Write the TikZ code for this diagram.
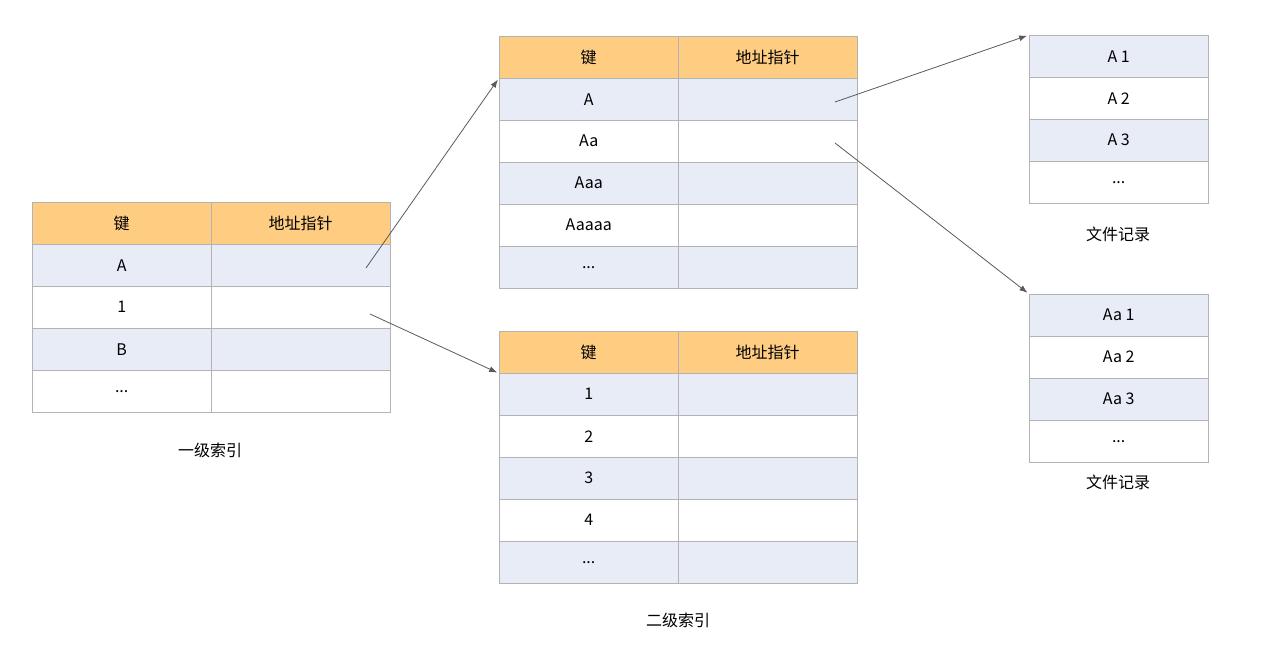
\documentclass[tikz,border=0pt]{standalone}
\usepackage{fontspec}
\setmainfont{Noto Sans CJK SC}
\usetikzlibrary{arrows.meta}
\usetikzlibrary{positioning}
\definecolor{headorange}{HTML}{FFCD82}
\definecolor{rowblue}{HTML}{E8ECF7}
\definecolor{cellline}{HTML}{B3B3B3}
\definecolor{arrowgray}{HTML}{5A5A5A}
\newcommand{\etcdots}{\raisebox{-2pt}{...}}
\tikzset{
  cell/.style={rectangle, draw=cellline, minimum width=179pt, minimum height=42pt, inner sep=0pt, anchor=north west, font=\fontsize{16}{18}\selectfont},
  head/.style={cell, fill=headorange},
  shaded/.style={cell, fill=rowblue},
  plain/.style={cell, fill=white},
  caption/.style={font=\fontsize{16}{18}\selectfont},
  arrow/.style={draw=arrowgray, -{Latex[length=8pt,width=6pt]}, line width=0.8pt, shorten >=2pt}
  }

\begin{document}
\begin{tikzpicture}[x=1pt, y=-1pt]
	\useasboundingbox (0,0) rectangle (1280,648);

	% First level index
	\node[head] (t1-hk) at (32,202) {键};
	\node[head] (t1-hp) at (211,202) {地址指针};
	\foreach \txt [count=\i] in {A,1,B,\etcdots} {
		\ifodd\i\def\rowstyle{shaded}\else\def\rowstyle{plain}\fi
		\node[\rowstyle] (t1-k\i) at (32,{202+42*\i}) {\txt};
		\node[\rowstyle] (t1-p\i) at (211,{202+42*\i}) {};
	}
	\node[caption] (cap1) at (210,450) {一级索引};

	% Second level index (A)
	\node[head] (t2-hk) at (499,36) {键};
	\node[head] (t2-hp) at (678,36) {地址指针};
	\foreach \txt [count=\i] in {A,Aa,Aaa,Aaaaa,\etcdots} {
		\ifodd\i\def\rowstyle{shaded}\else\def\rowstyle{plain}\fi
		\node[\rowstyle] (t2-k\i) at (499,{36+42*\i}) {\txt};
		\node[\rowstyle] (t2-p\i) at (678,{36+42*\i}) {};
	}

	% Second level index (1)
	\node[head] (t3-hk) at (499,331) {键};
	\node[head] (t3-hp) at (678,331) {地址指针};
	\foreach \txt [count=\i] in {1,2,3,4,\etcdots} {
		\ifodd\i\def\rowstyle{shaded}\else\def\rowstyle{plain}\fi
		\node[\rowstyle] (t3-k\i) at (499,{331+42*\i}) {\txt};
		\node[\rowstyle] (t3-p\i) at (678,{331+42*\i}) {};
	}
	\node[caption] (cap2) at (678,620) {二级索引};

	% File records
	\foreach \txt [count=\i] in {A 1,A 2,A 3,\etcdots} {
		\ifodd\i\def\rowstyle{shaded}\else\def\rowstyle{plain}\fi
		\node[\rowstyle] (r1-\i) at (1029,{35+42*(\i-1)}) {\txt};
	}
	\node[caption] (cap3) at (1118,234) {文件记录};
	\foreach \txt [count=\i] in {Aa 1,Aa 2,Aa 3,\etcdots} {
		\ifodd\i\def\rowstyle{shaded}\else\def\rowstyle{plain}\fi
		\node[\rowstyle] (r2-\i) at (1029,{294+42*(\i-1)}) {\txt};
	}
	\node[caption] (cap4) at (1118,482) {文件记录};

	% Arrows
	\coordinate (s1) at (366,268);
	\coordinate (s2) at (370,314);
	\coordinate (s3) at (835,102);
	\coordinate (s4) at (835,143);
	\draw [arrow] (s1) -- (t2-k1.north west);
	\draw [arrow] (s2) -- (t3-hk.south west);
	\draw [arrow] (s3) -- (r1-1.north west);
	\draw [arrow] (s4) -- (r2-1.north west);

\end{tikzpicture}
\end{document}
